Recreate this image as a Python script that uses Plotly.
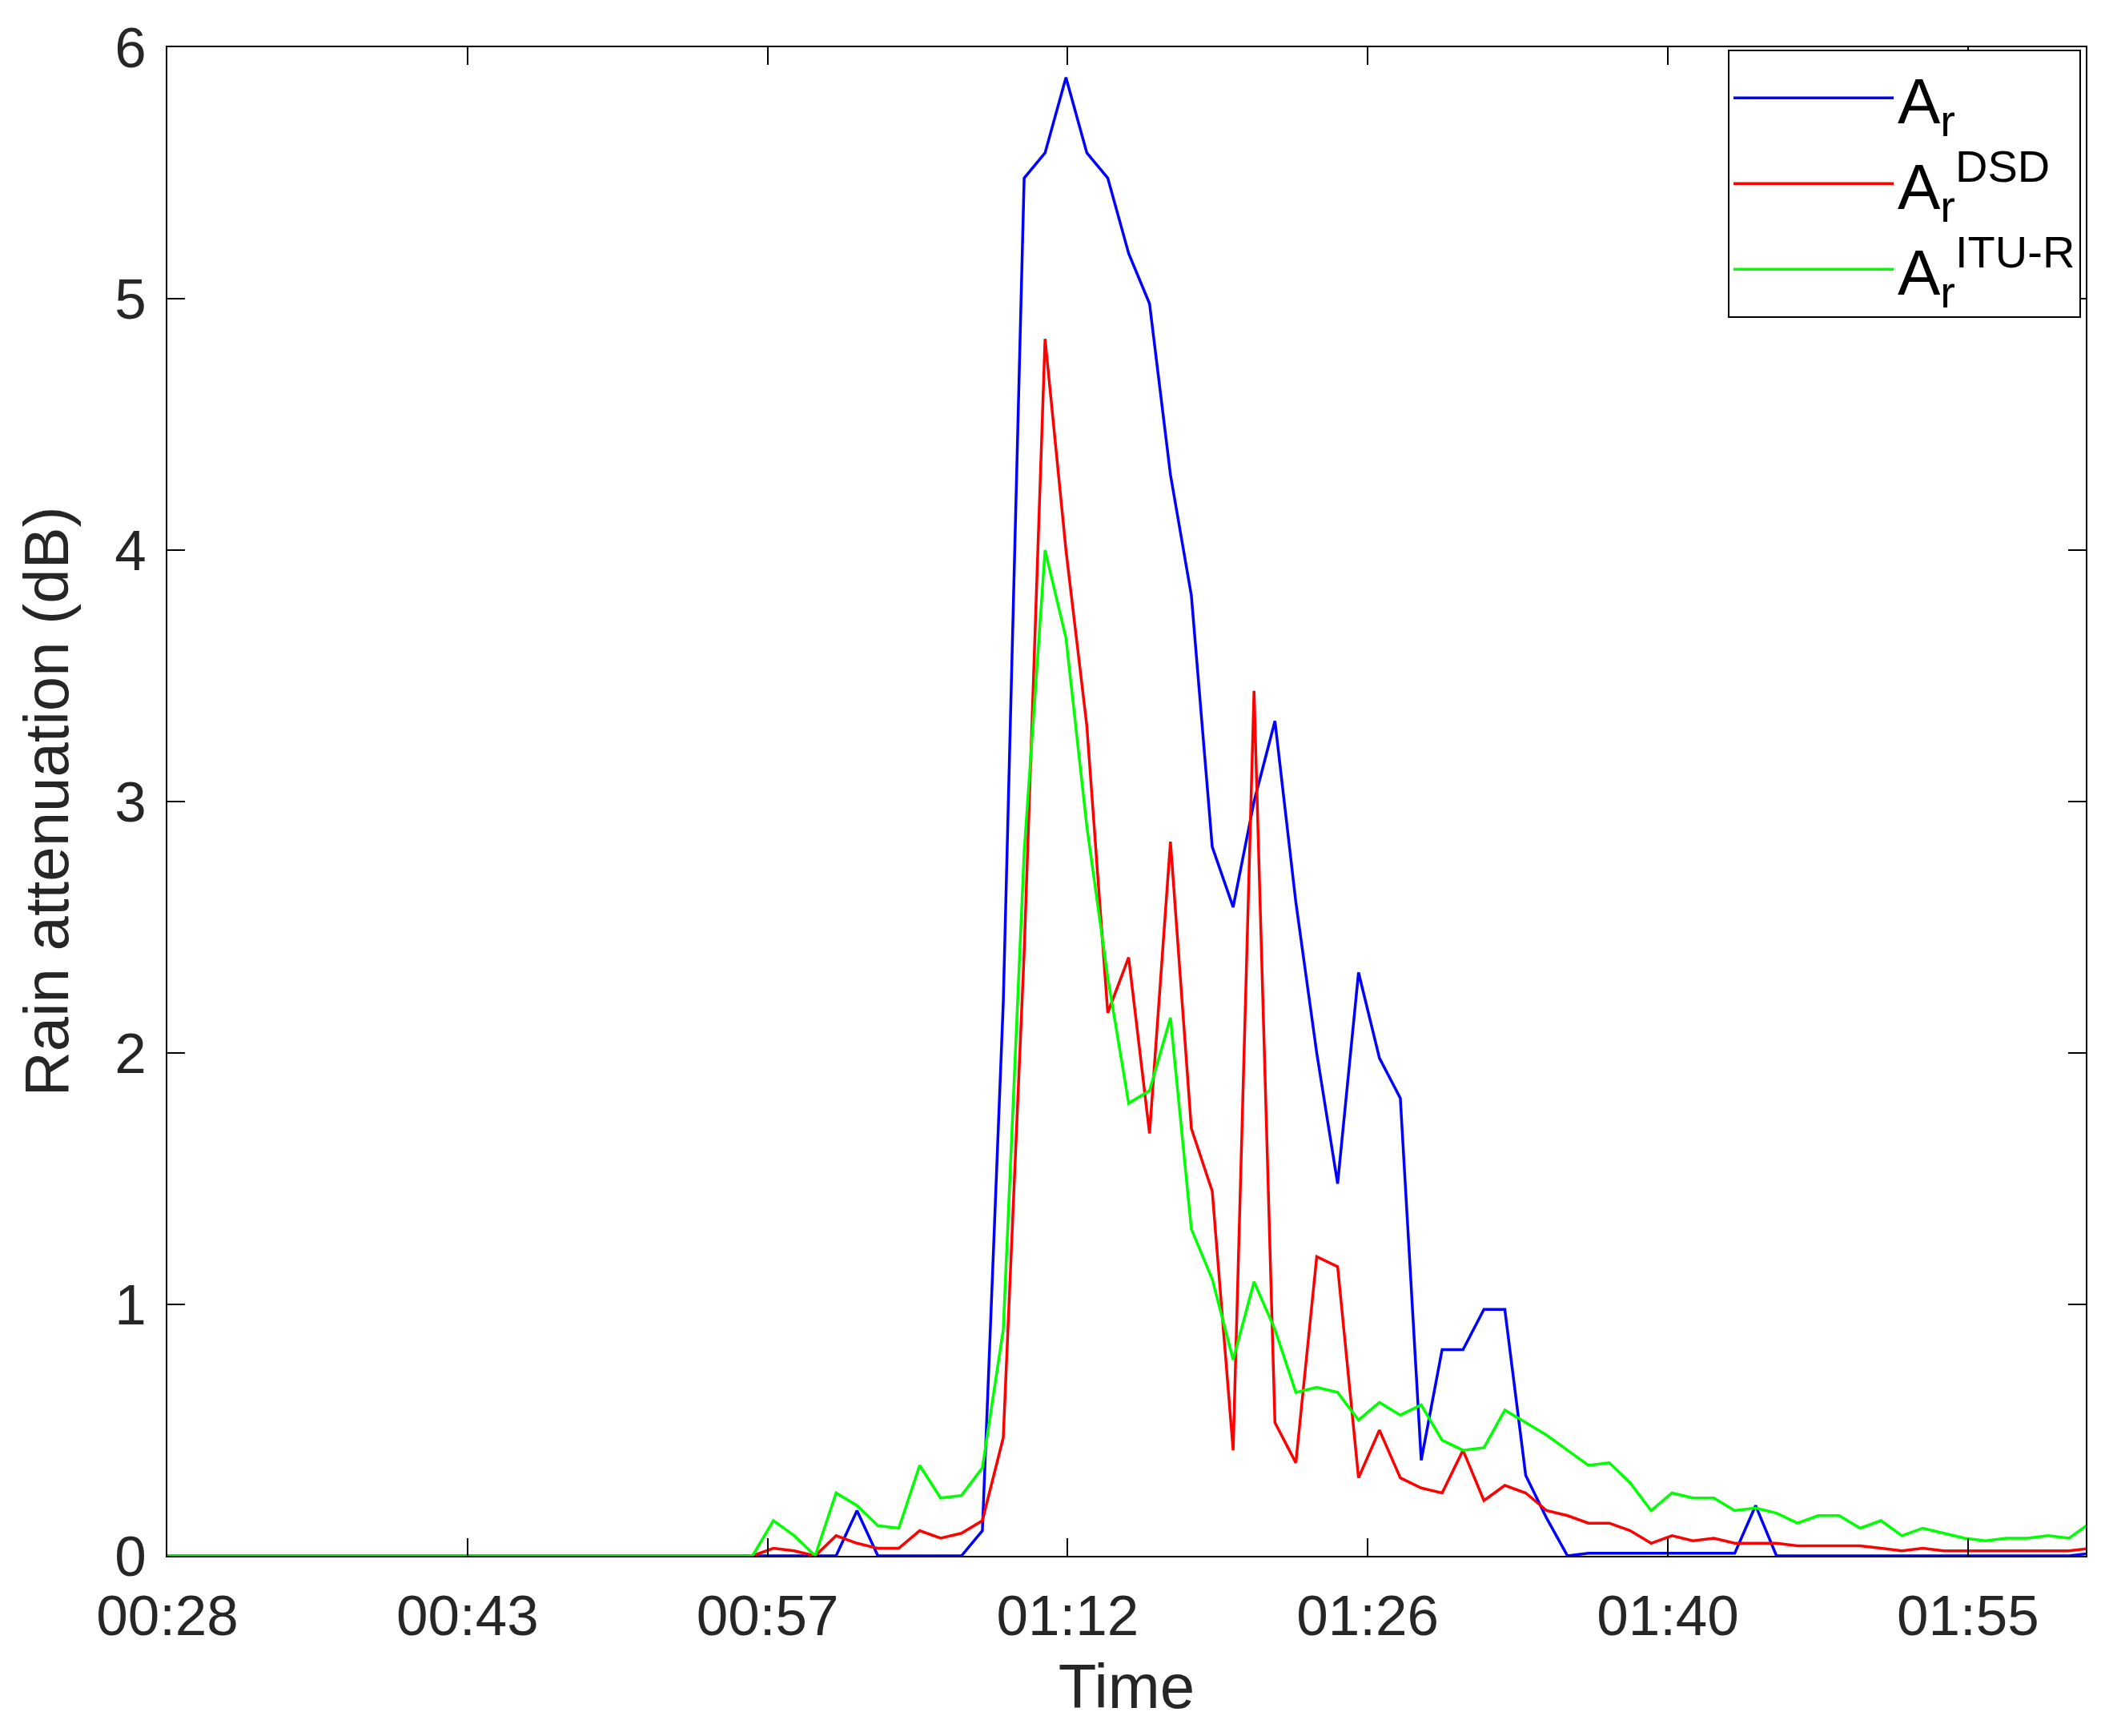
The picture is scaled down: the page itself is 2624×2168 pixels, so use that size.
import plotly.graph_objects as go

ar = [0]*33 + [0.18, 0, 0, 0, 0, 0, 0.1, 2.2, 5.48, 5.58, 5.88, 5.58, 5.48, 5.18, 4.98, 4.3, 3.82, 2.82, 2.58,
      3.0, 3.32, 2.6, 2.0, 1.48, 2.32, 1.98, 1.82, 0.38, 0.82, 0.82, 0.98, 0.98, 0.32, 0.15, 0.0,
      0.01, 0.01, 0.01, 0.01, 0.01, 0.01, 0.01, 0.01, 0.2, 0, 0, 0, 0, 0, 0, 0, 0, 0, 0, 0, 0, 0, 0, 0, 0.01]
ar_dsd = [0]*29 + [0.03, 0.02, 0.0, 0.08, 0.05, 0.03, 0.03, 0.1, 0.07, 0.09, 0.14, 0.47, 2.4, 4.84, 4.0, 3.3,
          2.16, 2.38, 1.68, 2.84, 1.7, 1.45, 0.42, 3.44, 0.53, 0.37, 1.19, 1.15, 0.31, 0.5, 0.31, 0.27, 0.25,
          0.42, 0.22, 0.28, 0.25, 0.18, 0.16, 0.13, 0.13, 0.1, 0.05, 0.08, 0.06, 0.07, 0.05, 0.05, 0.05, 0.04,
          0.04, 0.04, 0.04, 0.03, 0.02, 0.03, 0.02, 0.02, 0.02, 0.02, 0.02, 0.02, 0.02, 0.03]
ar_itu = [0]*29 + [0.14, 0.08, 0.0, 0.25, 0.2, 0.12, 0.11, 0.36, 0.23, 0.24, 0.35, 0.9, 2.8, 4.0, 3.65, 2.9,
          2.3, 1.8, 1.85, 2.14, 1.3, 1.1, 0.78, 1.09, 0.9, 0.65, 0.67, 0.65, 0.54, 0.61, 0.56, 0.6, 0.46,
          0.42, 0.43, 0.58, 0.53, 0.48, 0.42, 0.36, 0.37, 0.29, 0.18, 0.25, 0.23, 0.23, 0.18, 0.19, 0.17,
          0.13, 0.16, 0.16, 0.11, 0.14, 0.08, 0.11, 0.09, 0.07, 0.06, 0.07, 0.07, 0.08, 0.07, 0.13]
tick_labels = ["00:28", "00:43", "00:57", "01:12", "01:26", "01:40", "01:55"]
tick_step = 14.36

n = max(len(ar), len(ar_dsd), len(ar_itu))
def pad(a): return a + [a[-1]]*(n-len(a))
x = list(range(n))

fig = go.Figure()
for ys, name, col in [(ar, "A<sub>r</sub>", "#0000ff"),
                      (ar_dsd, "A<sub>r</sub><sup>DSD</sup>", "#ff0000"),
                      (ar_itu, "A<sub>r</sub><sup>ITU-R</sup>", "#00ff00")]:
    fig.add_trace(go.Scatter(x=x, y=pad(ys)[:n], mode="lines", name=name, line=dict(color=col, width=3.5)))

ax = dict(showline=True, linecolor="black", linewidth=2, mirror="ticks", ticks="inside",
          ticklen=22, tickwidth=2, tickcolor="black", showgrid=False, zeroline=False,
          tickfont=dict(size=71, color="#262626"))
fig.update_layout(
    width=2624, height=2168, plot_bgcolor="white", paper_bgcolor="white",
    font=dict(family="Arial, Liberation Sans", color="#262626"),
    margin=dict(l=201, r=27, t=45, b=233),
    xaxis=dict(ax, range=[0, 91.8], tickvals=[i*tick_step for i in range(len(tick_labels))],
               ticktext=tick_labels, ticklabelstandoff=12,
               title=dict(text="Time", font=dict(size=78), standoff=22)),
    yaxis=dict(ax, range=[0, 6], tickvals=[0, 1, 2, 3, 4, 5, 6], ticklabelstandoff=10,
               title=dict(text="Rain attenuation (dB)", font=dict(size=78), standoff=32)),
    legend=dict(x=0.9975, y=0.9985, xanchor="right", yanchor="top", bgcolor="white",
                bordercolor="black", borderwidth=2, font=dict(size=80, color="black"),
                itemwidth=200),
)
fig.write_html("out.html")
